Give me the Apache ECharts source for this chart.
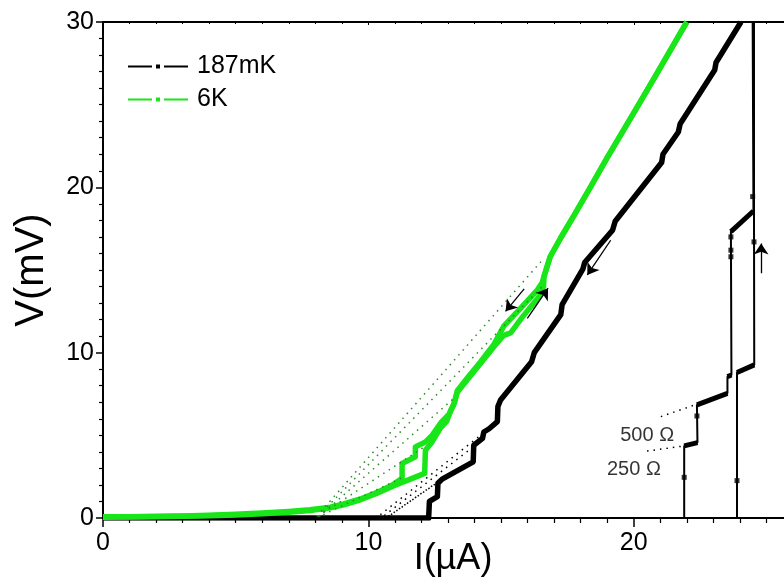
<!DOCTYPE html>
<html>
<head>
<meta charset="utf-8">
<script src="https://cdn.jsdelivr.net/npm/echarts@6/dist/echarts.min.js"></script>
<style>
html,body{margin:0;padding:0;background:#fff;}
#chart{width:784px;height:581px;}
</style>
</head>
<body>
<div id="chart"></div>
<script>
// ---------- data (I in µA, V in mV) ----------
const xTicks = [0, 10, 20];
const yTicks = [0, 10, 20, 30];
const xMax = 26;

// 187 mK : decreasing-current sweep (thick branch)
const black187_down = [[24.04,30],[23.1,27.55],[23.05,27.1],[21.75,23.85],[21.68,23.35],[21.1,22.0],[21.05,21.5],
  [19.3,17.95],[19.2,17.4],[18.15,15.45],[18.08,15.05],[17.3,12.9],[17.25,12.3],[16.25,10.0],[16.15,9.45],
  [14.98,7.14],[14.88,6.74],[14.86,5.83],[14.55,5.4],[14.35,5.2],[14.3,4.82],[13.97,4.4],[13.95,3.4],
  [12.78,2.35],[12.62,2.1],[12.6,1.29],[12.3,1.0],[12.27,0],[0,0]];
// 187 mK : increasing-current sweeps (switching steps)
const black187_upA = [[0,0],[21.9,0],[21.9,4.36],[22.4,4.56],[22.38,6.84],[23.53,7.54],[23.53,8.55],[23.68,8.65],
  [23.66,17.32],[24.51,18.57],[24.48,30]];
const black187_upB = [[0,0],[23.89,0],[23.89,8.8],[24.54,9.26],[24.53,18.57],[24.53,30]];
// index pairs of the resistive (thick) plateaus inside the up sweeps
const stepsA = [[2,3],[4,5],[6,7],[8,9]];
const stepsB = [[2,3]];
const black187_markers = [[21.9,2.46],[22.38,6.17],[23.66,15.8],[23.66,16.2],[23.66,17.0],[24.48,19.44],[23.89,2.26],[24.53,16.7]];

// 6 K
const green6K_up = [[0,0.05],[1,0.06],[2,0.08],[3,0.1],[4,0.13],[5,0.18],[6,0.25],[7,0.35],[7.8,0.45],[8.57,0.62],
  [9.07,0.8],[9.7,1.1],[10.33,1.5],[10.96,1.95],[11.58,2.35],[12.12,2.7],[12.15,4.1],[12.4,4.6],[12.72,5.45],
  [12.95,5.85],[13.1,6.5],[13.2,6.8],[13.35,7.6],[13.72,8.35],[14.23,9.36],[14.73,10.36],[15.1,11.05],[15.36,11.2],
  [15.8,12.15],[16.49,13.5],[16.6,14.0],[16.62,14.6],[16.85,15.8],[17.25,16.95],[17.75,18.3],[18.38,20.05],
  [19.0,21.8],[20.0,24.5],[20.77,26.6],[21.96,29.9],[22.0,30.0]];
const green6K_down = [[22.0,30.0],[21.96,29.9],[20.77,26.6],[20.0,24.5],[19.0,21.8],[18.38,20.05],[17.75,18.3],
  [17.25,16.95],[16.85,15.8],[16.65,14.8],[16.55,14.25],[16.37,13.8],[15.74,12.7],[15.1,11.6],[14.73,10.5],
  [14.23,9.45],[13.72,8.45],[13.35,7.7],[13.25,7.0],[13.05,6.3],[12.75,5.8],[12.4,5.0],[12.15,4.6],[11.77,4.3],
  [11.77,3.7],[11.27,3.3],[11.27,2.4],[10.96,2.05],[10.33,1.55],[9.7,1.15],[9.07,0.85],[8.57,0.65],[7.8,0.5],
  [7,0.4],[6,0.3],[5,0.22],[4,0.16],[3,0.12],[2,0.1],[1,0.08],[0,0.07]];

// linear extrapolations of the resistive branches (dotted)
const greenFits = [[[8.05,0.1],[16.5,15.5]],[[8.1,0.1],[16.55,14.0]],[[8.15,0.1],[13.3,7.35]],[[8.1,0.1],[12.2,4.4]],[[8.3,0.2],[11.3,2.45]]];
const blackFits = [[[10.45,0.2],[14.3,5.1]],[[10.6,0.15],[13.95,4.3]],[[10.75,0.1],[13.35,3.0]],[[10.85,0.2],[12.65,2.2]]];
const ohmFits = [[[21.02,6.13],[22.3,6.84]],[[20.5,4.05],[21.9,4.36]]];
const ohmLabels = [{text:'500 Ω', at:[21.52,5.02]},{text:'250 Ω', at:[21.02,2.96]}];

// sweep-direction arrows
const arrows = [[[19.13,16.8],[18.25,14.7]],[[24.8,14.8],[24.8,16.6]],[[15.87,13.86],[15.17,12.5]],[[15.99,12.08],[16.77,13.9]]];

// ---------- chart ----------
const FONT = 'Liberation Sans, Arial, sans-serif';
const BLACK = '#000000';
const GREEN = '#19e619';
const DGREEN = '#2e8b2e';
const legendIcon = 'path://M0,1h24v2H0z M28,0h4v4h-4z M36,1h24v2H36z';

const series = [];
series.push({name:'187mK', type:'line', data:black187_down, showSymbol:false, symbol:'none',
  lineStyle:{color:BLACK, width:5.5, join:'round'}, itemStyle:{color:BLACK}, z:2});
[black187_upA, black187_upB].forEach(d => series.push({name:'187mK', type:'line', data:d, showSymbol:false, symbol:'none',
  lineStyle:{color:BLACK, width:2}, itemStyle:{color:BLACK}, z:2}));
[[black187_upA, stepsA],[black187_upB, stepsB]].forEach(([d, st]) => st.forEach(([a,b]) =>
  series.push({name:'187mK', type:'line', data:[d[a], d[b]], showSymbol:false, symbol:'none',
    lineStyle:{color:BLACK, width:5}, itemStyle:{color:BLACK}, z:2})));
series.push({name:'187mK', type:'scatter', data:black187_markers, symbol:'rect', symbolSize:5,
  itemStyle:{color:BLACK}, z:3});
series.push({type:'lines', coordinateSystem:'cartesian2d', data:blackFits.map(c=>({coords:c})),
  lineStyle:{color:BLACK, width:1.5, type:[1.5,5], opacity:1}, symbol:['none','none'], z:3});
series.push({type:'lines', coordinateSystem:'cartesian2d', data:ohmFits.map(c=>({coords:c})),
  lineStyle:{color:BLACK, width:1.5, type:[1.5,5], opacity:1}, symbol:['none','none'], z:3});
series.push({type:'scatter', data:ohmLabels.map(o=>({value:o.at, name:o.text})), symbolSize:0,
  label:{show:true, position:'left', distance:0, formatter:p=>p.name, color:BLACK, fontSize:20, fontFamily:FONT}, z:4});
[green6K_up, green6K_down].forEach(d => series.push({name:'6K', type:'line', data:d, showSymbol:false, symbol:'none',
  lineStyle:{color:GREEN, width:5.5, join:'round'}, itemStyle:{color:GREEN}, z:4}));
series.push({type:'lines', coordinateSystem:'cartesian2d', data:greenFits.map(c=>({coords:c})),
  lineStyle:{color:DGREEN, width:1.5, type:[1.5,5], opacity:1}, symbol:['none','none'], z:5});
series.push({type:'lines', coordinateSystem:'cartesian2d', data:arrows.map(c=>({coords:c})),
  lineStyle:{color:BLACK, width:1.3, opacity:1}, symbol:['none','arrow'], symbolSize:[6,11], z:6});

const chart = echarts.init(document.getElementById('chart'), null, {renderer:'canvas'});
chart.setOption({
  animation:false,
  backgroundColor:'#fff',
  textStyle:{fontFamily:FONT},
  grid:{left:103, right:-9, top:22, bottom:63, containLabel:false, outerBoundsMode:'none'},
  legend:{
    left:128, top:54, padding:0, orient:'vertical', itemWidth:60, itemHeight:4, itemGap:8,
    textStyle:{fontSize:25, color:BLACK, fontFamily:FONT, padding:[0,0,0,4]},
    data:[{name:'187mK', icon:legendIcon},{name:'6K', icon:legendIcon}],
    selectedMode:false
  },
  xAxis:[{
    type:'value', min:xTicks[0], max:xMax, interval:xTicks[1]-xTicks[0],
    name:'I(µA)', nameLocation:'middle', nameGap:23, nameMoveOverlap:false,
    nameTextStyle:{fontSize:36, color:BLACK, fontFamily:FONT, padding:[0,0,0,10]},
    axisLine:{show:true, onZero:false, lineStyle:{color:BLACK, width:2}},
    axisTick:{show:true, inside:false, length:9, lineStyle:{color:BLACK, width:1.5}},
    minorTick:{show:true, splitNumber:10, length:5, lineStyle:{color:BLACK, width:1.2}},
    splitLine:{show:false},
    axisLabel:{fontSize:25, color:BLACK, margin:13, fontFamily:FONT, showMaxLabel:false}
  },{
    type:'value', position:'top', min:xTicks[0], max:xMax, interval:xTicks[1]-xTicks[0],
    axisLine:{show:true, onZero:false, lineStyle:{color:BLACK, width:2}},
    axisTick:{show:true, inside:true, length:3, lineStyle:{color:BLACK, width:1}},
    minorTick:{show:true, splitNumber:10, length:2, lineStyle:{color:BLACK, width:1}},
    splitLine:{show:false}, axisLabel:{show:false}
  }],
  yAxis:{
    type:'value', min:yTicks[0], max:yTicks[yTicks.length-1], interval:yTicks[1]-yTicks[0],
    name:'V(mV)', nameLocation:'middle', nameGap:51, nameRotate:90, nameMoveOverlap:false,
    nameTextStyle:{fontSize:40, color:BLACK, fontFamily:FONT},
    axisLine:{show:true, onZero:false, lineStyle:{color:BLACK, width:2}},
    axisTick:{show:true, inside:false, length:7, lineStyle:{color:BLACK, width:1.5}},
    minorTick:{show:true, splitNumber:10, length:4, lineStyle:{color:BLACK, width:1.2}},
    splitLine:{show:false},
    axisLabel:{fontSize:25, color:BLACK, margin:9, fontFamily:FONT}
  },
  series: series
});
</script>
</body>
</html>
